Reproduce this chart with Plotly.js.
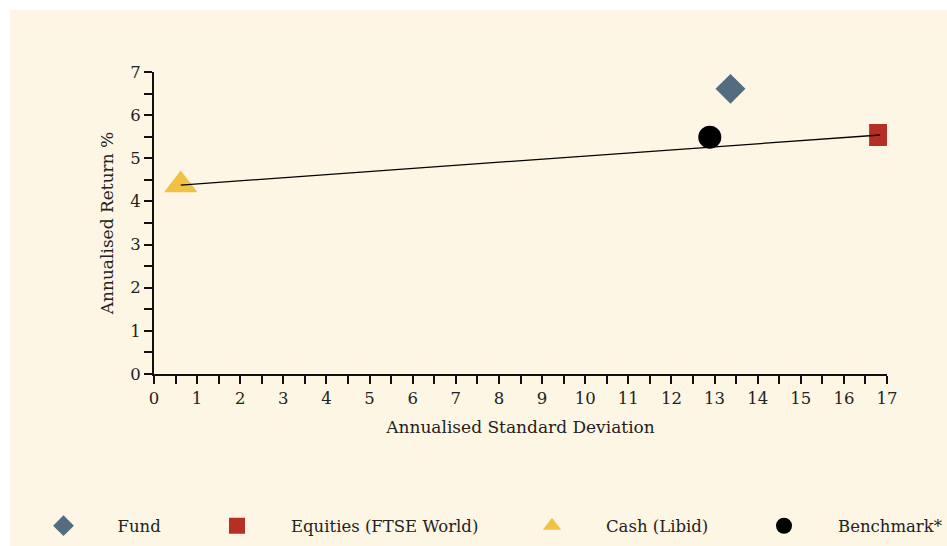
<!DOCTYPE html>
<html>
<head>
<meta charset="utf-8">
<script src="https://cdn.plot.ly/plotly-3.0.1.min.js"></script>
<style>
html,body{margin:0;padding:0;background:#ffffff;}
#chart{width:947px;height:546px;}
</style>
</head>
<body>
<div id="chart"></div>
<script>
// Data (Annualised Standard Deviation, Annualised Return %)
const seriesNames = ["Fund", "Equities (FTSE World)", "Cash (Libid)", "Benchmark*"];
const stdDev = [13.37, 16.84, 0.62, 12.89];
const annReturn = [6.61, 5.54, 4.38, 5.49];
const xTickVals = [0,1,2,3,4,5,6,7,8,9,10,11,12,13,14,15,16,17];
const yTickVals = [0,1,2,3,4,5,6,7];

const FONT = "DejaVu Serif, serif";
const CREAM = "#FEF6E4";
const txtColor = "#222222";

const colors = ["#536C80", "#B52F25", "#EFC244", "#000000"];
const symbols = ["diamond", "square", "triangle-up", "circle"];
const sizes = [23, 22, 29, 23];
const legendIds = ["legend", "legend2", "legend3", "legend4"];
const legendLeftPx = [9.5, 183, 498, 730];

function pointTrace(i) {
  return {
    type: "scatter",
    mode: "markers",
    name: seriesNames[i],
    legend: legendIds[i],
    x: [stdDev[i]],
    y: [annReturn[i]],
    marker: {symbol: symbols[i], size: sizes[i], color: colors[i], line: {width: 0}},
    hoverinfo: "name+x+y"
  };
}

// Line from Cash to Equities
const lineTrace = {
  type: "scatter",
  mode: "lines",
  x: [stdDev[2], stdDev[1]],
  y: [annReturn[2], annReturn[1]],
  line: {color: "#000000", width: 1.3},
  showlegend: false,
  hoverinfo: "skip"
};

const data = [pointTrace(0), pointTrace(1), pointTrace(2), lineTrace, pointTrace(3)];

const axisCommon = {
  showgrid: false,
  zeroline: false,
  showline: true,
  linecolor: "#111111",
  linewidth: 2,
  ticks: "outside",
  ticklen: 8,
  tickwidth: 2,
  tickcolor: "#111111",
  tickfont: {family: FONT, size: 16.5, color: txtColor},
  fixedrange: true,
  minor: {dtick: 0.5, ticks: "outside", ticklen: 8, tickwidth: 2, tickcolor: "#111111", showgrid: false}
};

const layout = {
  width: 947,
  height: 546,
  margin: {l: 154, r: 60, t: 72, b: 172, autoexpand: false},
  paper_bgcolor: "#ffffff",
  plot_bgcolor: CREAM,
  font: {family: FONT, size: 16, color: txtColor},
  xaxis: Object.assign({}, axisCommon, {
    range: [0, 17],
    tickmode: "array",
    tickvals: xTickVals,
    title: {text: "Annualised Standard Deviation", font: {family: FONT, size: 17, color: txtColor}, standoff: 14}
  }),
  yaxis: Object.assign({}, axisCommon, {
    range: [0, 7],
    tickmode: "array",
    tickvals: yTickVals,
    title: {text: "Annualised Return %", font: {family: FONT, size: 17, color: txtColor}, standoff: 12}
  }),
  shapes: [{
    type: "rect", xref: "paper", yref: "paper",
    x0: -0.1965, x1: 1.2, y0: -0.58, y1: 1.2053,
    fillcolor: CREAM, line: {width: 0}, layer: "below"
  }],
  hovermode: "closest"
};

legendIds.forEach(function(id, i) {
  layout[id] = {
    orientation: "h",
    xref: "container", yref: "container",
    x: legendLeftPx[i] / 947, xanchor: "left",
    y: 1 - 526 / 546, yanchor: "middle",
    itemwidth: 98,
    borderwidth: 0,
    font: {family: FONT, size: 16.5, color: txtColor},
    bgcolor: "rgba(0,0,0,0)",
    itemclick: false, itemdoubleclick: false
  };
});

Plotly.newPlot("chart", data, layout, {displayModeBar: false});
</script>
</body>
</html>
